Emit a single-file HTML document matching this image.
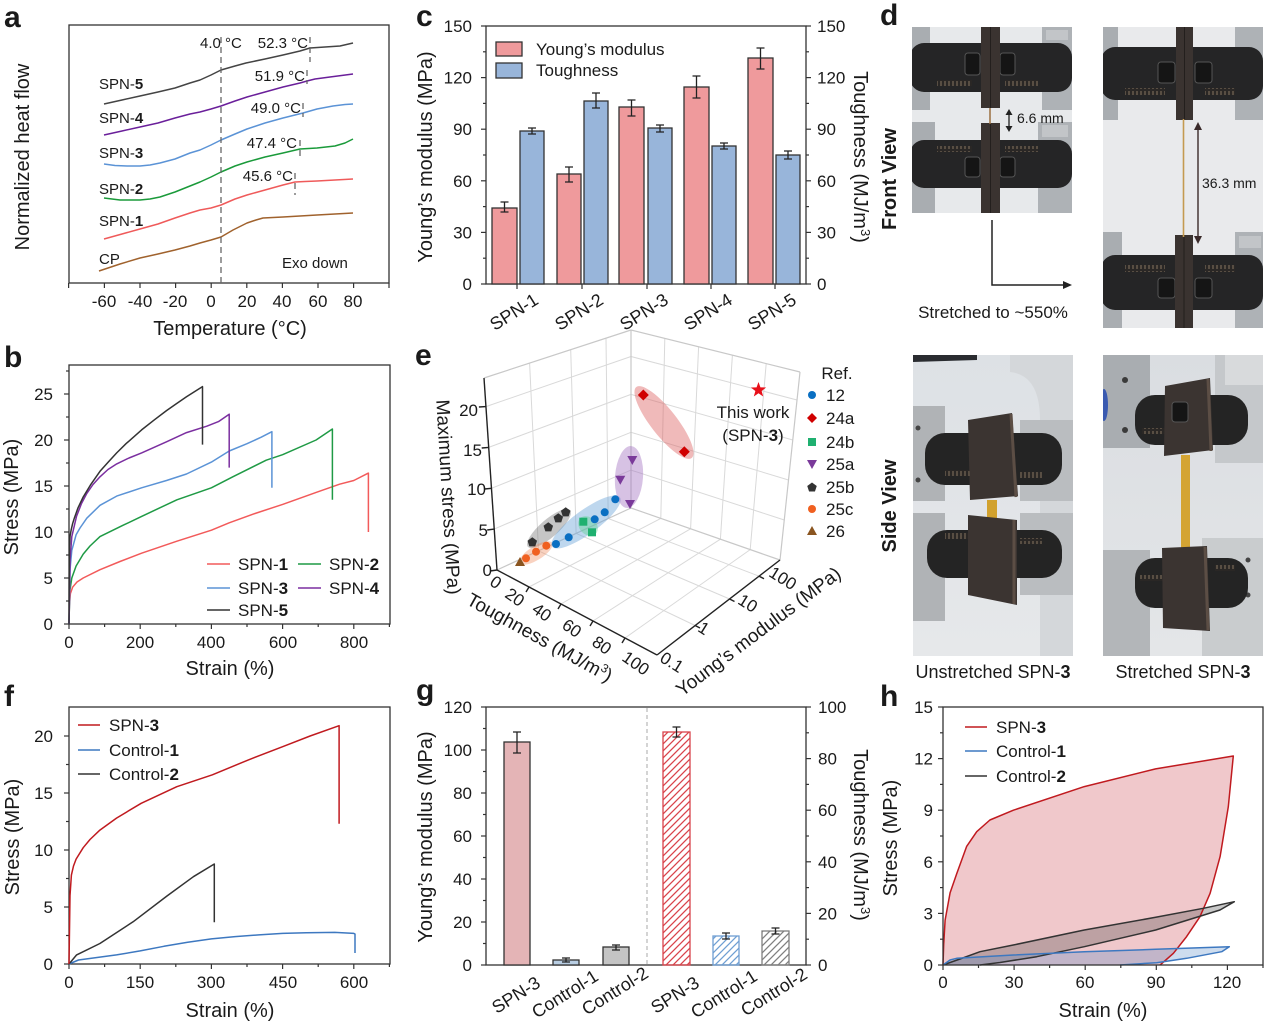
<!DOCTYPE html>
<html><head><meta charset="utf-8"><style>
html,body{margin:0;padding:0;background:#fff;}
svg{display:block;}
text{fill:#1a1a1a;}
</style></head><body>
<svg width="1264" height="1025" viewBox="0 0 1264 1025" font-family="'Liberation Sans', Arial, sans-serif">
<defs>
<pattern id="hr" patternUnits="userSpaceOnUse" width="7" height="7"><path d="M-1,1 l2,-2 M0,7 l7,-7 M6,8 l2,-2" stroke="#d9434b" stroke-width="1.3"/></pattern>
<pattern id="hb" patternUnits="userSpaceOnUse" width="7" height="7"><path d="M-1,1 l2,-2 M0,7 l7,-7 M6,8 l2,-2" stroke="#6f9fd3" stroke-width="1.3"/></pattern>
<pattern id="hg" patternUnits="userSpaceOnUse" width="7" height="7"><path d="M-1,1 l2,-2 M0,7 l7,-7 M6,8 l2,-2" stroke="#808080" stroke-width="1.3"/></pattern>
<pattern id="spring" patternUnits="userSpaceOnUse" width="4" height="10"><rect width="4" height="10" fill="#2a2725"/><line x1="1" y1="1" x2="1" y2="9" stroke="#9c8a70" stroke-width="0.8"/></pattern>
<linearGradient id="bgbl" x1="0" y1="0" x2="0" y2="1"><stop offset="0" stop-color="#dde1e5"/><stop offset="1" stop-color="#e6e8ea"/></linearGradient>
<linearGradient id="bgbr" x1="0" y1="0" x2="0" y2="1"><stop offset="0" stop-color="#dadde1"/><stop offset="1" stop-color="#e4e6e8"/></linearGradient>
<clipPath id="c1"><rect x="912" y="27" width="160" height="186"/></clipPath>
<clipPath id="c2"><rect x="1103" y="27" width="160" height="301"/></clipPath>
<clipPath id="c3"><rect x="913" y="355" width="160" height="301"/></clipPath>
<clipPath id="c4"><rect x="1103" y="355" width="160" height="301"/></clipPath>
</defs>

<!-- ================= PANEL A ================= -->
<text x="4" y="27" font-size="30" font-weight="bold">a</text>
<rect x="69" y="25" width="320" height="258" fill="none" stroke="#333" stroke-width="1.3"/>
<g stroke="#333" stroke-width="1.2">
<line x1="68.6" y1="283" x2="68.6" y2="288"/><line x1="104.4" y1="283" x2="104.4" y2="288"/><line x1="140" y1="283" x2="140" y2="288"/><line x1="175.6" y1="283" x2="175.6" y2="288"/><line x1="211.2" y1="283" x2="211.2" y2="288"/><line x1="246.8" y1="283" x2="246.8" y2="288"/><line x1="282.4" y1="283" x2="282.4" y2="288"/><line x1="318" y1="283" x2="318" y2="288"/><line x1="353.6" y1="283" x2="353.6" y2="288"/><line x1="389" y1="283" x2="389" y2="288"/>
</g>
<g font-size="17" text-anchor="middle">
<text x="104" y="307">-60</text><text x="140" y="307">-40</text><text x="175" y="307">-20</text><text x="211" y="307">0</text><text x="247" y="307">20</text><text x="282" y="307">40</text><text x="318" y="307">60</text><text x="353" y="307">80</text>
</g>
<text x="230" y="335" font-size="20" text-anchor="middle">Temperature (°C)</text>
<text transform="translate(22,157) rotate(-90)" y="7" font-size="20" text-anchor="middle">Normalized heat flow</text>
<g fill="none" stroke-width="1.5" stroke-linejoin="round">
<path stroke="#a0622d" d="M99,271 L120,264 L140,258 L158,254 L175,250 L190,246 L200,243 L211,240 L221,237 L233,230 L247,223 L256,220 L263,218 L283,217 L300,216 L317,215 L335,214 L353,213"/>
<path stroke="#ef5a5a" d="M104,239 L122,234 L140,229 L158,224 L175,218 L190,213 L200,210 L211,208 L221,205 L235,199 L247,195 L265,190 L283,185 L295,182 L305,181.5 L317,181 L335,180 L353,179"/>
<path stroke="#1a9a3a" d="M104,198 L120,200 L140,200 L150,199 L160,197 L175,192 L190,186 L200,182 L211,177 L221,172 L235,166 L247,162 L265,157 L283,153 L300,149 L317,148 L335,146 L345,143 L353,139"/>
<path stroke="#5b93d6" d="M104,164 L115,165.5 L127,166 L140,166 L150,165 L160,163 L175,159 L190,153 L200,150 L211,145 L221,140 L235,134 L247,129 L265,123 L283,118 L303,113 L317,109 L333,106 L345,104.5 L353,104"/>
<path stroke="#6a1f9a" d="M104,135 L122,131 L140,127 L158,123 L175,118 L190,114 L200,112 L211,109 L221,106 L235,101 L247,97 L265,92 L283,87 L300,83 L307,81 L315,79 L330,77 L353,74"/>
<path stroke="#444" d="M104,104 L122,100 L140,96 L158,92 L175,88 L190,83 L200,80 L211,75 L221,70 L235,66 L246,63 L265,59 L283,55 L300,51 L310,48 L325,47 L340,46 L353,43"/>
</g>
<g stroke="#666" stroke-width="1.3" stroke-dasharray="6,4">
<line x1="221" y1="37" x2="221" y2="283"/>
<line x1="310" y1="37" x2="310" y2="62"/>
<line x1="307" y1="70" x2="307" y2="84"/>
<line x1="303" y1="103" x2="303" y2="117"/>
<line x1="300" y1="140" x2="300" y2="160"/>
<line x1="295" y1="173" x2="295" y2="195"/>
</g>
<g font-size="15">
<text x="200" y="48">4.0 °C</text>
<text x="308" y="48" text-anchor="end">52.3 °C</text>
<text x="305" y="81" text-anchor="end">51.9 °C</text>
<text x="301" y="113" text-anchor="end">49.0 °C</text>
<text x="297" y="148" text-anchor="end">47.4 °C</text>
<text x="293" y="181" text-anchor="end">45.6 °C</text>
<text x="99" y="89">SPN-<tspan font-weight="bold">5</tspan></text>
<text x="99" y="123">SPN-<tspan font-weight="bold">4</tspan></text>
<text x="99" y="158">SPN-<tspan font-weight="bold">3</tspan></text>
<text x="99" y="194">SPN-<tspan font-weight="bold">2</tspan></text>
<text x="99" y="226">SPN-<tspan font-weight="bold">1</tspan></text>
<text x="99" y="264">CP</text>
<text x="282" y="268">Exo down</text>
</g>

<!-- ================= PANEL B ================= -->
<text x="4" y="367" font-size="30" font-weight="bold">b</text>
<rect x="69" y="365" width="321" height="259" fill="none" stroke="#333" stroke-width="1.3"/>
<g stroke="#333" stroke-width="1.2">
<line x1="64" y1="624" x2="69" y2="624"/><line x1="64" y1="578" x2="69" y2="578"/><line x1="64" y1="532" x2="69" y2="532"/><line x1="64" y1="486" x2="69" y2="486"/><line x1="64" y1="440" x2="69" y2="440"/><line x1="64" y1="394" x2="69" y2="394"/>
<line x1="66" y1="601" x2="69" y2="601"/><line x1="66" y1="555" x2="69" y2="555"/><line x1="66" y1="509" x2="69" y2="509"/><line x1="66" y1="463" x2="69" y2="463"/><line x1="66" y1="417" x2="69" y2="417"/><line x1="66" y1="371" x2="69" y2="371"/>
<line x1="69" y1="624" x2="69" y2="629"/><line x1="140.2" y1="624" x2="140.2" y2="629"/><line x1="211.4" y1="624" x2="211.4" y2="629"/><line x1="282.6" y1="624" x2="282.6" y2="629"/><line x1="353.8" y1="624" x2="353.8" y2="629"/>
<line x1="104.6" y1="624" x2="104.6" y2="627"/><line x1="175.8" y1="624" x2="175.8" y2="627"/><line x1="247" y1="624" x2="247" y2="627"/><line x1="318.2" y1="624" x2="318.2" y2="627"/><line x1="389.4" y1="624" x2="389.4" y2="627"/>
</g>
<g font-size="17" text-anchor="end">
<text x="53" y="630">0</text><text x="53" y="584">5</text><text x="53" y="538">10</text><text x="53" y="492">15</text><text x="53" y="446">20</text><text x="53" y="400">25</text>
</g>
<g font-size="17" text-anchor="middle">
<text x="69" y="648">0</text><text x="140" y="648">200</text><text x="211" y="648">400</text><text x="283" y="648">600</text><text x="354" y="648">800</text>
</g>
<text x="230" y="675" font-size="20" text-anchor="middle">Strain (%)</text>
<text transform="translate(11,497) rotate(-90)" y="7" font-size="20" text-anchor="middle">Stress (MPa)</text>
<g fill="none" stroke-width="1.5" stroke-linejoin="round">
<path stroke="#f25a5a" d="M69,624 L69.4,605.6 L70.4,593.6 L72.6,587.2 L77,582 L83.2,578 L100,569.7 L120,561.5 L141.6,553.2 L176.9,541.2 L211.4,530.2 L229.2,522.8 L255,513.5 L282.6,504.4 L316.1,492.4 L339.6,484.2 L353.8,480.5 L368.4,473.1 L368.4,532"/>
<path stroke="#1f9a45" d="M69,624 L69.7,591.8 L71.8,578 L76.1,566 L83.2,554.1 L90,546 L100,536.6 L122.4,525.6 L141.6,516.4 L176.9,499.8 L211.4,487.8 L232.8,476.8 L266.2,460.2 L282.6,454.7 L316.1,440 L332.4,429 L332.4,499.8"/>
<path stroke="#5b93d6" d="M69,624 L70.1,568.8 L71.8,550.4 L76.1,534.8 L80,528 L86.8,518.2 L100,505.3 L116.7,496.1 L141.6,487.8 L166.5,480.5 L186.5,474 L211.4,462.1 L229.2,451 L247,443.7 L261.2,437.2 L271.9,431.7 L271.9,487.8"/>
<path stroke="#7b2fa0" d="M69,624 L70.1,559.6 L71.8,536.6 L76.5,516.4 L81.5,503.5 L86.8,493.4 L93,484.5 L100,476.8 L108,469.5 L116.7,463.9 L129,458 L141.6,452.9 L166.5,441.8 L186.5,432.6 L206.8,426.2 L218.5,421.6 L229.2,414.2 L229.2,467.6"/>
<path stroke="#333" d="M69,624 L69.2,578 L69.5,545.8 L70.1,535.7 L71.1,530.2 L72.6,523.7 L74.3,518.2 L77.9,508.1 L83.2,497 L90.4,485.1 L100,471.3 L108.2,462.1 L116.7,452.9 L126,443.7 L141.6,429.9 L154.4,419.8 L166.5,410.6 L175.8,404.1 L186.5,396.8 L193.6,392.2 L202.5,386.6 L202.5,444.6"/>
</g>
<g stroke-width="1.5">
<line x1="207" y1="564" x2="230" y2="564" stroke="#f25a5a"/>
<line x1="298" y1="564" x2="321" y2="564" stroke="#1f9a45"/>
<line x1="207" y1="588" x2="230" y2="588" stroke="#5b93d6"/>
<line x1="298" y1="588" x2="321" y2="588" stroke="#7b2fa0"/>
<line x1="207" y1="610" x2="230" y2="610" stroke="#333"/>
</g>
<g font-size="17">
<text x="238" y="570">SPN-<tspan font-weight="bold">1</tspan></text>
<text x="329" y="570">SPN-<tspan font-weight="bold">2</tspan></text>
<text x="238" y="594">SPN-<tspan font-weight="bold">3</tspan></text>
<text x="329" y="594">SPN-<tspan font-weight="bold">4</tspan></text>
<text x="238" y="616">SPN-<tspan font-weight="bold">5</tspan></text>
</g>

<!-- ================= PANEL C ================= -->
<text x="416" y="26" font-size="30" font-weight="bold">c</text>
<rect x="486" y="26" width="320" height="258" fill="none" stroke="#333" stroke-width="1.3"/>
<g stroke="#333" stroke-width="1.2">
<line x1="481" y1="284" x2="486" y2="284"/><line x1="481" y1="232.4" x2="486" y2="232.4"/><line x1="481" y1="180.8" x2="486" y2="180.8"/><line x1="481" y1="129.2" x2="486" y2="129.2"/><line x1="481" y1="77.6" x2="486" y2="77.6"/><line x1="481" y1="26" x2="486" y2="26"/>
<line x1="483" y1="258.2" x2="486" y2="258.2"/><line x1="483" y1="206.6" x2="486" y2="206.6"/><line x1="483" y1="155" x2="486" y2="155"/><line x1="483" y1="103.4" x2="486" y2="103.4"/><line x1="483" y1="51.8" x2="486" y2="51.8"/>
<line x1="806" y1="284" x2="811" y2="284"/><line x1="806" y1="232.4" x2="811" y2="232.4"/><line x1="806" y1="180.8" x2="811" y2="180.8"/><line x1="806" y1="129.2" x2="811" y2="129.2"/><line x1="806" y1="77.6" x2="811" y2="77.6"/><line x1="806" y1="26" x2="811" y2="26"/>
<line x1="806" y1="258.2" x2="809" y2="258.2"/><line x1="806" y1="206.6" x2="809" y2="206.6"/><line x1="806" y1="155" x2="809" y2="155"/><line x1="806" y1="103.4" x2="809" y2="103.4"/><line x1="806" y1="51.8" x2="809" y2="51.8"/>
<line x1="517" y1="284" x2="517" y2="289"/><line x1="582" y1="284" x2="582" y2="289"/><line x1="647" y1="284" x2="647" y2="289"/><line x1="711" y1="284" x2="711" y2="289"/><line x1="775" y1="284" x2="775" y2="289"/>
</g>
<g font-size="17" text-anchor="end">
<text x="472" y="290">0</text><text x="472" y="238.4">30</text><text x="472" y="186.8">60</text><text x="472" y="135.2">90</text><text x="472" y="83.6">120</text><text x="472" y="32">150</text>
</g>
<g font-size="17">
<text x="817" y="290">0</text><text x="817" y="238.4">30</text><text x="817" y="186.8">60</text><text x="817" y="135.2">90</text><text x="817" y="83.6">120</text><text x="817" y="32">150</text>
</g>
<g stroke="#333" stroke-width="1.3">
<rect x="492" y="208" width="25" height="76" fill="#ef9a9c"/>
<rect x="520" y="131" width="24" height="153" fill="#98b5da"/>
<rect x="557" y="174" width="24" height="110" fill="#ef9a9c"/>
<rect x="584" y="101" width="24" height="183" fill="#98b5da"/>
<rect x="619" y="107" width="25" height="177" fill="#ef9a9c"/>
<rect x="648" y="128" width="24" height="156" fill="#98b5da"/>
<rect x="684" y="87" width="25" height="197" fill="#ef9a9c"/>
<rect x="712" y="146" width="24" height="138" fill="#98b5da"/>
<rect x="748" y="58" width="25" height="226" fill="#ef9a9c"/>
<rect x="776" y="155" width="24" height="129" fill="#98b5da"/>
</g>
<g stroke="#222" stroke-width="1.3" fill="none">
<path d="M504.5,202 V212 M500.5,202 H508.5 M500.5,212 H508.5"/>
<path d="M532,128 V134 M528,128 H536 M528,134 H536"/>
<path d="M569,167 V182 M565,167 H573 M565,182 H573"/>
<path d="M596,93 V108 M592,93 H600 M592,108 H600"/>
<path d="M631.5,100 V116 M627.5,100 H635.5 M627.5,116 H635.5"/>
<path d="M660,125 V132 M656,125 H664 M656,132 H664"/>
<path d="M696.5,76 V98 M692.5,76 H700.5 M692.5,98 H700.5"/>
<path d="M724,143 V149 M720,143 H728 M720,149 H728"/>
<path d="M760.5,48 V69 M756.5,48 H764.5 M756.5,69 H764.5"/>
<path d="M788,151 V159 M784,151 H792 M784,159 H792"/>
</g>
<rect x="496" y="42" width="26" height="14" fill="#ef9a9c" stroke="#333" stroke-width="1.3"/>
<rect x="496" y="63" width="26" height="15" fill="#98b5da" stroke="#333" stroke-width="1.3"/>
<text x="536" y="55" font-size="17">Young’s modulus</text>
<text x="536" y="76" font-size="17">Toughness</text>
<text transform="translate(425,157) rotate(-90)" y="7" font-size="20" text-anchor="middle">Young’s modulus (MPa)</text>
<text transform="translate(861,157) rotate(90)" y="7" font-size="20" text-anchor="middle">Toughness (MJ/m<tspan font-size="13" dy="-7">3</tspan><tspan dy="7">)</tspan></text>
<g font-size="18" text-anchor="middle">
<text transform="translate(514,312) rotate(-32)" y="6">SPN-1</text>
<text transform="translate(579,312) rotate(-32)" y="6">SPN-2</text>
<text transform="translate(644,312) rotate(-32)" y="6">SPN-3</text>
<text transform="translate(708,312) rotate(-32)" y="6">SPN-4</text>
<text transform="translate(772,312) rotate(-32)" y="6">SPN-5</text>
</g>

<!-- ================= PANEL E ================= -->
<text x="415" y="365" font-size="30" font-weight="bold">e</text>
<g stroke="#d9d9d9" stroke-width="1" fill="none">
<line x1="494.2" y1="529.1" x2="631" y2="470.1"/>
<line x1="491.5" y1="488.3" x2="631" y2="432.3"/>
<line x1="488.7" y1="447.4" x2="631" y2="394.4"/>
<line x1="485.9" y1="406.6" x2="631" y2="356.5"/>
<line x1="538.5" y1="550.8" x2="529.6" y2="363.1"/>
<line x1="576.1" y1="533.4" x2="570.7" y2="349.7"/>
<line x1="608.2" y1="518.5" x2="606" y2="338.2"/>
<line x1="631" y1="470.1" x2="784.3" y2="520"/>
<line x1="631" y1="432.3" x2="788.5" y2="480"/>
<line x1="631" y1="394.4" x2="792.8" y2="440"/>
<line x1="631" y1="356.5" x2="797" y2="400"/>
<line x1="660.8" y1="518.4" x2="664.8" y2="338.4"/>
<line x1="690.6" y1="528.8" x2="698.6" y2="346.8"/>
<line x1="720.4" y1="539.2" x2="732.4" y2="355.2"/>
<line x1="750.2" y1="549.6" x2="766.2" y2="363.6"/>
<line x1="529" y1="587" x2="660.8" y2="518.4"/>
<line x1="561" y1="604" x2="690.6" y2="528.8"/>
<line x1="593" y1="621" x2="720.4" y2="539.2"/>
<line x1="625" y1="638" x2="750.2" y2="549.6"/>
<line x1="538.5" y1="550.8" x2="695.1" y2="625.5"/>
<line x1="576.1" y1="533.4" x2="729.6" y2="599"/>
<line x1="608.2" y1="518.5" x2="759.1" y2="576.2"/>
</g>
<g stroke="#c8c8c8" stroke-width="1.2" fill="none">
<line x1="484" y1="378" x2="631" y2="330"/>
<line x1="631" y1="330" x2="800" y2="372"/>
<line x1="800" y1="372" x2="780" y2="560"/>
<line x1="631" y1="330" x2="631" y2="508"/>
<line x1="497" y1="570" x2="631" y2="508"/>
<line x1="631" y1="508" x2="780" y2="560"/>
</g>
<g stroke="#222" stroke-width="1.4" fill="none">
<line x1="484" y1="378" x2="497" y2="570"/>
<line x1="497" y1="570" x2="657" y2="655"/>
<line x1="657" y1="655" x2="780" y2="560"/>
<line x1="497" y1="570" x2="490" y2="571"/>
<line x1="494.2" y1="529.1" x2="487.2" y2="530"/>
<line x1="491.5" y1="488.3" x2="484.5" y2="489"/>
<line x1="488.7" y1="447.4" x2="481.7" y2="448"/>
<line x1="485.9" y1="406.6" x2="478.9" y2="407"/>
<line x1="529" y1="587" x2="526" y2="592"/>
<line x1="561" y1="604" x2="558" y2="609"/>
<line x1="593" y1="621" x2="590" y2="626"/>
<line x1="625" y1="638" x2="622" y2="643"/>
<line x1="695.1" y1="625.5" x2="700" y2="628"/>
<line x1="729.6" y1="599" x2="734.5" y2="601.5"/>
<line x1="759.1" y1="576.2" x2="764" y2="578.7"/>
</g>
<g font-size="17" text-anchor="end">
<text x="492" y="576">0</text><text x="488" y="536">5</text><text x="486" y="495">10</text><text x="482" y="456">15</text><text x="478" y="416">20</text>
</g>
<g font-size="17" text-anchor="middle">
<text transform="translate(496,582) rotate(35)" y="6">0</text>
<text transform="translate(515,597) rotate(35)" y="6">20</text>
<text transform="translate(542,612) rotate(35)" y="6">40</text>
<text transform="translate(572,628) rotate(35)" y="6">60</text>
<text transform="translate(602,645) rotate(35)" y="6">80</text>
<text transform="translate(636,663) rotate(35)" y="6">100</text>
<text transform="translate(672,662) rotate(32)" y="6">0.1</text>
<text transform="translate(704,628) rotate(32)" y="6">1</text>
<text transform="translate(748,603) rotate(32)" y="6">10</text>
<text transform="translate(783,578) rotate(32)" y="6">100</text>
</g>
<text transform="translate(449,497) rotate(86.6)" y="7" font-size="19" text-anchor="middle">Maximum stress (MPa)</text>
<text transform="translate(540,637) rotate(29)" y="7" font-size="19" text-anchor="middle">Toughness (MJ/m<tspan font-size="12" dy="-7">3</tspan><tspan dy="7">)</tspan></text>
<text transform="translate(758,631) rotate(-37)" y="7" font-size="19" text-anchor="middle">Young’s modulus (MPa)</text>
<ellipse cx="549" cy="528.5" rx="28" ry="9" transform="rotate(-41 549 528.5)" fill="#787878" fill-opacity="0.42"/>
<ellipse cx="536" cy="553" rx="19" ry="7" transform="rotate(-32 536 553)" fill="#f08a5a" fill-opacity="0.38"/>
<ellipse cx="586" cy="522" rx="42" ry="12" transform="rotate(-36 586 522)" fill="#64a0d7" fill-opacity="0.42"/>
<ellipse cx="588" cy="526" rx="11" ry="8.5" transform="rotate(45 588 526)" fill="#64d296" fill-opacity="0.45"/>
<ellipse cx="629" cy="477" rx="14" ry="31" transform="rotate(4 629 477)" fill="#a06ebe" fill-opacity="0.42"/>
<ellipse cx="664" cy="422.5" rx="45" ry="13" transform="rotate(52 664 422.5)" fill="#dc5a5a" fill-opacity="0.42"/>
<g fill="#333"><polygon points="0,-5 4.76,-1.55 2.94,4.05 -2.94,4.05 -4.76,-1.55" transform="translate(532.3,542.3)"/><polygon points="0,-5 4.76,-1.55 2.94,4.05 -2.94,4.05 -4.76,-1.55" transform="translate(548.3,527.3)"/><polygon points="0,-5 4.76,-1.55 2.94,4.05 -2.94,4.05 -4.76,-1.55" transform="translate(558.3,518.3)"/><polygon points="0,-5 4.76,-1.55 2.94,4.05 -2.94,4.05 -4.76,-1.55" transform="translate(565.7,512.3)"/></g>
<g fill="#f06020"><circle cx="526" cy="558.3" r="4"/><circle cx="536" cy="551.7" r="4"/><circle cx="546.3" cy="545.7" r="4"/></g>
<polygon points="0,-5 5,4 -5,4" transform="translate(520,562)" fill="#8a5520"/>
<g fill="#0a6fc2"><circle cx="556" cy="544" r="4"/><circle cx="568.7" cy="537.3" r="4"/><circle cx="594.7" cy="519.3" r="4"/><circle cx="604.7" cy="512.3" r="4"/><circle cx="615.3" cy="499.3" r="4"/></g>
<g fill="#1fb070"><rect x="579.3" y="517.7" width="8" height="8"/><rect x="588" y="528.3" width="8" height="8"/></g>
<g fill="#7a3a9a"><polygon points="-5,-4 5,-4 0,5" transform="translate(620.3,479.7)"/><polygon points="-5,-4 5,-4 0,5" transform="translate(632.3,460)"/><polygon points="-5,-4 5,-4 0,5" transform="translate(630,504)"/></g>
<g fill="#d00000"><polygon points="0,-5.5 5.5,0 0,5.5 -5.5,0" transform="translate(643.3,395)"/><polygon points="0,-5.5 5.5,0 0,5.5 -5.5,0" transform="translate(684.3,451.7)"/></g>
<polygon points="0,-8 1.94,-2.67 7.61,-2.47 3.14,1.02 4.7,6.47 0,3.3 -4.7,6.47 -3.14,1.02 -7.61,-2.47 -1.94,-2.67" transform="translate(758.5,390)" fill="#e8101a"/>
<g font-size="17" text-anchor="middle">
<text x="753" y="418">This work</text>
<text x="753" y="441">(SPN-<tspan font-weight="bold">3</tspan>)</text>
<text x="837" y="379">Ref.</text>
</g>
<circle cx="812" cy="395" r="4" fill="#0a6fc2"/>
<polygon points="0,-5 5,0 0,5 -5,0" transform="translate(812,418)" fill="#d00000"/>
<rect x="808" y="438" width="8" height="8" fill="#1fb070"/>
<polygon points="-5,-4 5,-4 0,5" transform="translate(812,464)" fill="#7a3a9a"/>
<polygon points="0,-5 4.76,-1.55 2.94,4.05 -2.94,4.05 -4.76,-1.55" transform="translate(812,487.5)" fill="#333"/>
<circle cx="812" cy="509" r="4" fill="#f06020"/>
<polygon points="0,-5 5,4 -5,4" transform="translate(812,531)" fill="#8a5520"/>
<g font-size="17">
<text x="826" y="401">12</text><text x="826" y="424">24a</text><text x="826" y="448">24b</text><text x="826" y="470">25a</text><text x="826" y="493">25b</text><text x="826" y="515">25c</text><text x="826" y="537">26</text>
</g>

<!-- ================= PANEL D ================= -->
<text x="880" y="25" font-size="30" font-weight="bold">d</text>
<text transform="translate(889,179) rotate(-90)" y="7" font-size="20" font-weight="bold" text-anchor="middle">Front View</text>
<text transform="translate(889,506) rotate(-90)" y="7" font-size="20" font-weight="bold" text-anchor="middle">Side View</text>
<!-- photo 1 -->
<g clip-path="url(#c1)">
<rect x="912" y="27" width="160" height="186" fill="#e7e9eb"/>
<rect x="912" y="27" width="18" height="83" fill="#a9adb1"/><rect x="1042" y="27" width="30" height="83" fill="#aeb2b6"/>
<rect x="1046" y="30" width="22" height="10" fill="#c2c5c8"/>
<rect x="912" y="122" width="23" height="91" fill="#a9adb1"/><rect x="1038" y="122" width="34" height="91" fill="#aeb2b6"/>
<rect x="1042" y="125" width="26" height="12" fill="#c2c5c8"/>
<rect x="910" y="43" width="162" height="49" rx="14" fill="#252526"/>
<rect x="937" y="80" width="35" height="6" fill="url(#spring)"/><rect x="1005" y="80" width="33" height="6" fill="url(#spring)"/>
<rect x="965" y="53" width="15" height="22" rx="3" fill="#151515" stroke="#555"/><rect x="1000" y="53" width="15" height="22" rx="3" fill="#151515" stroke="#555"/>
<rect x="910" y="140" width="162" height="48" rx="14" fill="#252526"/>
<rect x="937" y="146" width="35" height="6" fill="url(#spring)"/><rect x="1005" y="146" width="33" height="6" fill="url(#spring)"/>
<rect x="965" y="157" width="15" height="20" rx="3" fill="#151515" stroke="#555"/><rect x="1000" y="157" width="15" height="20" rx="3" fill="#151515" stroke="#555"/>
<rect x="981" y="27" width="19" height="81" fill="#3a3330"/><line x1="990.5" y1="27" x2="990.5" y2="108" stroke="#231f1d"/>
<rect x="981" y="123" width="19" height="90" fill="#3a3330"/><line x1="990.5" y1="123" x2="990.5" y2="213" stroke="#231f1d"/>
<line x1="990" y1="108" x2="990" y2="124" stroke="#9a7040" stroke-width="1.5"/>
</g>
<g stroke="#222" stroke-width="1.3" fill="#222">
<line x1="1009" y1="113" x2="1009" y2="128"/>
<polygon points="1005.5,115 1009,109 1012.5,115" stroke="none"/><polygon points="1005.5,126 1009,132 1012.5,126" stroke="none"/>
</g>
<text x="1017" y="123" font-size="14">6.6 mm</text>
<!-- photo 2 -->
<g clip-path="url(#c2)">
<rect x="1103" y="27" width="160" height="301" fill="#e9eaec"/>
<rect x="1103" y="27" width="15" height="93" fill="#a9adb1"/><rect x="1235" y="27" width="28" height="93" fill="#aeb2b6"/>
<rect x="1103" y="232" width="19" height="96" fill="#a9adb1"/><rect x="1235" y="232" width="28" height="96" fill="#aeb2b6"/>
<rect x="1239" y="236" width="22" height="12" fill="#c2c5c8"/>
<rect x="1101" y="47" width="162" height="53" rx="14" fill="#252526"/>
<rect x="1125" y="88" width="40" height="7" fill="url(#spring)"/><rect x="1205" y="88" width="30" height="7" fill="url(#spring)"/>
<rect x="1158" y="62" width="17" height="21" rx="3" fill="#151515" stroke="#555"/><rect x="1195" y="62" width="17" height="21" rx="3" fill="#151515" stroke="#555"/>
<rect x="1101" y="255" width="162" height="55" rx="14" fill="#252526"/>
<rect x="1125" y="265" width="40" height="7" fill="url(#spring)"/><rect x="1205" y="265" width="30" height="7" fill="url(#spring)"/>
<rect x="1158" y="278" width="17" height="20" rx="3" fill="#151515" stroke="#555"/><rect x="1195" y="278" width="17" height="20" rx="3" fill="#151515" stroke="#555"/>
<rect x="1176" y="27" width="17" height="93" fill="#3a3330"/><line x1="1184.5" y1="27" x2="1184.5" y2="120" stroke="#231f1d"/>
<rect x="1175" y="235" width="18" height="93" fill="#3a3330"/><line x1="1184" y1="235" x2="1184" y2="328" stroke="#231f1d"/>
<line x1="1183.5" y1="119" x2="1183.5" y2="237" stroke="#c49a50" stroke-width="1.6"/>
</g>
<g stroke="#3a2a2a" stroke-width="1.4" fill="#3a2a2a">
<line x1="1198" y1="128" x2="1198" y2="238"/>
<polygon points="1194,130 1198,122 1202,130" stroke="none"/><polygon points="1194,236 1198,244 1202,236" stroke="none"/>
</g>
<text x="1202" y="188" font-size="14">36.3 mm</text>
<!-- arrow -->
<g stroke="#222" stroke-width="1.5" fill="none"><path d="M992,220 V285 H1065"/></g>
<polygon points="1063,281 1072,285 1063,289" fill="#222"/>
<text x="993" y="318" font-size="17" text-anchor="middle">Stretched to ~550%</text>
<!-- photo 3 -->
<g clip-path="url(#c3)">
<rect x="913" y="355" width="160" height="301" fill="url(#bgbl)"/>
<polygon points="913,355 977,355 977,360 913,362" fill="#2a2c30"/>
<path d="M1010,355 H1073 V656 H1040 V420 Q1040,375 1010,372 Z" fill="#d4d7da"/>
<rect x="913" y="406" width="32" height="95" fill="#b0b3b6"/>
<rect x="913" y="513" width="32" height="108" fill="#b0b3b6"/>
<circle cx="918" cy="428" r="2.5" fill="#444"/><circle cx="918" cy="480" r="2.5" fill="#444"/>
<rect x="1020" y="420" width="53" height="81" fill="#babdc0"/>
<rect x="1020" y="513" width="53" height="82" fill="#babdc0"/>
<rect x="925" y="433" width="137" height="52" rx="20" fill="#242424"/>
<rect x="945" y="470" width="30" height="6" fill="url(#spring)"/><rect x="1020" y="472" width="22" height="6" fill="url(#spring)"/>
<rect x="975" y="450" width="18" height="22" rx="4" fill="#151515" stroke="#555"/>
<rect x="927" y="530" width="135" height="48" rx="20" fill="#242424"/>
<rect x="945" y="533" width="35" height="6" fill="url(#spring)"/><rect x="1020" y="538" width="22" height="6" fill="url(#spring)"/>
<rect x="975" y="545" width="18" height="22" rx="4" fill="#151515" stroke="#555"/>
<polygon points="968,420 1012,413 1018,496 970,500" fill="#3b3431"/>
<line x1="1011" y1="414" x2="1016" y2="497" stroke="#5c4e45" stroke-width="3"/>
<rect x="987" y="500" width="10" height="18" fill="#d1a12e"/>
<polygon points="968,515 1017,520 1017,605 968,595" fill="#3b3431"/>
<line x1="1014" y1="520" x2="1014" y2="604" stroke="#5c4e45" stroke-width="3"/>
</g>
<!-- photo 4 -->
<g clip-path="url(#c4)">
<rect x="1103" y="355" width="160" height="301" fill="url(#bgbr)"/>
<rect x="1103" y="355" width="47" height="93" fill="#a9adb1"/>
<circle cx="1125" cy="380" r="3" fill="#3a3a3a"/><circle cx="1125" cy="430" r="3" fill="#3a3a3a"/>
<ellipse cx="1104" cy="405" rx="4" ry="16" fill="#3a5ab0"/>
<rect x="1215" y="355" width="48" height="108" fill="#c5c8cb"/>
<rect x="1225" y="355" width="38" height="30" fill="#d8dadc"/>
<rect x="1135" y="395" width="113" height="50" rx="20" fill="#242424"/>
<rect x="1142" y="428" width="30" height="6" fill="url(#spring)"/>
<polygon points="1165,386 1210,378 1213,450 1164,456" fill="#3b3431"/>
<line x1="1208" y1="379" x2="1211" y2="451" stroke="#5c4e45" stroke-width="3"/>
<rect x="1172" y="402" width="16" height="20" rx="3" fill="#151515" stroke="#555"/>
<rect x="1181" y="455" width="9" height="93" fill="#d4a433"/>
<rect x="1103" y="550" width="47" height="106" fill="#b3b6b9"/>
<rect x="1202" y="538" width="61" height="118" fill="#c9ccce"/>
<circle cx="1248" cy="560" r="2.5" fill="#444"/><circle cx="1248" cy="595" r="2.5" fill="#444"/>
<rect x="1135" y="558" width="113" height="50" rx="20" fill="#242424"/>
<rect x="1140" y="575" width="30" height="6" fill="url(#spring)"/><rect x="1215" y="565" width="20" height="6" fill="url(#spring)"/>
<polygon points="1162,548 1207,546 1210,631 1163,628" fill="#3b3431"/>
<line x1="1205" y1="547" x2="1208" y2="630" stroke="#5c4e45" stroke-width="3"/>
</g>
<text x="993" y="678" font-size="18" text-anchor="middle">Unstretched SPN-<tspan font-weight="bold">3</tspan></text>
<text x="1183" y="678" font-size="18" text-anchor="middle">Stretched SPN-<tspan font-weight="bold">3</tspan></text>

<!-- ================= PANEL F ================= -->
<text x="4" y="706" font-size="30" font-weight="bold">f</text>
<rect x="69" y="707" width="321" height="257" fill="none" stroke="#333" stroke-width="1.3"/>
<g stroke="#333" stroke-width="1.2">
<line x1="64" y1="964" x2="69" y2="964"/><line x1="64" y1="907" x2="69" y2="907"/><line x1="64" y1="850" x2="69" y2="850"/><line x1="64" y1="793" x2="69" y2="793"/><line x1="64" y1="736" x2="69" y2="736"/>
<line x1="66" y1="935.5" x2="69" y2="935.5"/><line x1="66" y1="878.5" x2="69" y2="878.5"/><line x1="66" y1="821.5" x2="69" y2="821.5"/><line x1="66" y1="764.5" x2="69" y2="764.5"/>
<line x1="69" y1="964" x2="69" y2="969"/><line x1="140.2" y1="964" x2="140.2" y2="969"/><line x1="211.4" y1="964" x2="211.4" y2="969"/><line x1="282.6" y1="964" x2="282.6" y2="969"/><line x1="353.8" y1="964" x2="353.8" y2="969"/>
<line x1="104.6" y1="964" x2="104.6" y2="967"/><line x1="175.8" y1="964" x2="175.8" y2="967"/><line x1="247" y1="964" x2="247" y2="967"/><line x1="318.2" y1="964" x2="318.2" y2="967"/><line x1="389.4" y1="964" x2="389.4" y2="967"/>
</g>
<g font-size="17" text-anchor="end">
<text x="53" y="970">0</text><text x="53" y="913">5</text><text x="53" y="856">10</text><text x="53" y="799">15</text><text x="53" y="742">20</text>
</g>
<g font-size="17" text-anchor="middle">
<text x="69" y="988">0</text><text x="140" y="988">150</text><text x="211" y="988">300</text><text x="283" y="988">450</text><text x="354" y="988">600</text>
</g>
<text x="230" y="1017" font-size="20" text-anchor="middle">Strain (%)</text>
<text transform="translate(12,837) rotate(-90)" y="7" font-size="20" text-anchor="middle">Stress (MPa)</text>
<g fill="none" stroke-width="1.5" stroke-linejoin="round">
<path stroke="#3d78c0" d="M69,964 L78.5,960 L116.5,954.9 L140.2,950.9 L163.9,946.3 L187.7,942.3 L211.4,938.9 L235.1,936.6 L258.9,934.9 L282.6,933.4 L306.4,932.7 L334.8,932.4 L353.8,933.4 L355,934 L355,953"/>
<path stroke="#333" d="M69,964 L76.6,954.9 L99.9,943.5 L133.1,921.8 L166.8,896.1 L193.4,876.7 L214.3,864 L214.3,922.3"/>
<path stroke="#c01a1f" d="M69,964 L69.5,929.8 L70,895.6 L71.4,875.1 L73.5,866 L76.1,859.1 L83.2,847.7 L90,839.5 L99.9,830.1 L116.5,818.1 L141.2,803.3 L176.8,786.7 L212.4,774.8 L248.4,759.9 L283.6,746.3 L310.1,736 L339.1,725.7 L339.1,823.8"/>
</g>
<line x1="78" y1="725" x2="100" y2="725" stroke="#c01a1f" stroke-width="1.5"/>
<line x1="78" y1="750" x2="100" y2="750" stroke="#3d78c0" stroke-width="1.5"/>
<line x1="78" y1="774" x2="100" y2="774" stroke="#333" stroke-width="1.5"/>
<g font-size="17">
<text x="109" y="731">SPN-<tspan font-weight="bold">3</tspan></text>
<text x="109" y="756">Control-<tspan font-weight="bold">1</tspan></text>
<text x="109" y="780">Control-<tspan font-weight="bold">2</tspan></text>
</g>

<!-- ================= PANEL G ================= -->
<text x="416" y="700" font-size="30" font-weight="bold">g</text>
<rect x="486" y="707" width="320" height="258" fill="none" stroke="#333" stroke-width="1.3"/>
<g stroke="#333" stroke-width="1.2">
<line x1="481" y1="965" x2="486" y2="965"/><line x1="481" y1="922" x2="486" y2="922"/><line x1="481" y1="879" x2="486" y2="879"/><line x1="481" y1="836" x2="486" y2="836"/><line x1="481" y1="793" x2="486" y2="793"/><line x1="481" y1="750" x2="486" y2="750"/><line x1="481" y1="707" x2="486" y2="707"/>
<line x1="483" y1="943.5" x2="486" y2="943.5"/><line x1="483" y1="900.5" x2="486" y2="900.5"/><line x1="483" y1="857.5" x2="486" y2="857.5"/><line x1="483" y1="814.5" x2="486" y2="814.5"/><line x1="483" y1="771.5" x2="486" y2="771.5"/><line x1="483" y1="728.5" x2="486" y2="728.5"/>
<line x1="806" y1="965" x2="811" y2="965"/><line x1="806" y1="913.4" x2="811" y2="913.4"/><line x1="806" y1="861.8" x2="811" y2="861.8"/><line x1="806" y1="810.2" x2="811" y2="810.2"/><line x1="806" y1="758.6" x2="811" y2="758.6"/><line x1="806" y1="707" x2="811" y2="707"/>
<line x1="806" y1="939.2" x2="809" y2="939.2"/><line x1="806" y1="887.6" x2="809" y2="887.6"/><line x1="806" y1="836" x2="809" y2="836"/><line x1="806" y1="784.4" x2="809" y2="784.4"/><line x1="806" y1="732.8" x2="809" y2="732.8"/>
</g>
<g font-size="17" text-anchor="end">
<text x="472" y="971">0</text><text x="472" y="928">20</text><text x="472" y="885">40</text><text x="472" y="842">60</text><text x="472" y="799">80</text><text x="472" y="756">100</text><text x="472" y="713">120</text>
</g>
<g font-size="17">
<text x="818" y="971">0</text><text x="818" y="919.4">20</text><text x="818" y="867.8">40</text><text x="818" y="816.2">60</text><text x="818" y="764.6">80</text><text x="818" y="713">100</text>
</g>
<line x1="647" y1="708" x2="647" y2="964" stroke="#aaa" stroke-width="1" stroke-dasharray="4,3"/>
<g stroke="#333" stroke-width="1.3">
<rect x="504" y="742" width="26" height="223" fill="#e4b4b6"/>
<rect x="553" y="960" width="26" height="5" fill="#b8cde2"/>
<rect x="603" y="947" width="26" height="18" fill="#c4c4c4"/>
</g>
<rect x="663" y="732" width="27" height="233" fill="url(#hr)" stroke="#d9434b" stroke-width="1.3"/>
<rect x="713" y="936" width="26" height="29" fill="url(#hb)" stroke="#6f9fd3" stroke-width="1.3"/>
<rect x="762" y="931" width="27" height="34" fill="url(#hg)" stroke="#808080" stroke-width="1.3"/>
<g stroke="#222" stroke-width="1.3" fill="none">
<path d="M517,732 V753 M513,732 H521 M513,753 H521"/>
<path d="M566,958 V962 M562,958 H570 M562,962 H570"/>
<path d="M616,945 V950 M612,945 H620 M612,950 H620"/>
<path d="M676.5,727 V737 M672.5,727 H680.5 M672.5,737 H680.5"/>
<path d="M726,933 V939 M722,933 H730 M722,939 H730"/>
<path d="M775.5,928 V934 M771.5,928 H779.5 M771.5,934 H779.5"/>
</g>
<text transform="translate(425,837) rotate(-90)" y="7" font-size="20" text-anchor="middle">Young’s modulus (MPa)</text>
<text transform="translate(861,835) rotate(90)" y="7" font-size="20" text-anchor="middle">Toughness (MJ/m<tspan font-size="13" dy="-7">3</tspan><tspan dy="7">)</tspan></text>
<g font-size="18" text-anchor="middle">
<text transform="translate(516,995) rotate(-32)" y="6">SPN-3</text>
<text transform="translate(565,994) rotate(-32)" y="6">Control-1</text>
<text transform="translate(615,991) rotate(-32)" y="6">Control-2</text>
<text transform="translate(675,995) rotate(-32)" y="6">SPN-3</text>
<text transform="translate(724,994) rotate(-32)" y="6">Control-1</text>
<text transform="translate(774,992) rotate(-32)" y="6">Control-2</text>
</g>

<!-- ================= PANEL H ================= -->
<text x="880" y="706" font-size="30" font-weight="bold">h</text>
<path d="M943,965 L943.7,944.4 L945.1,920.3 L950.1,892.8 L956.7,873.8 L966.7,846.3 L976.7,831.7 L989.9,820 L1013.4,810.2 L1084.3,786.6 L1155.6,768.9 L1233.3,756 L1228.3,806.8 L1220.1,856.6 L1210.1,893.3 L1199.9,916.8 L1186.6,936.6 L1173.4,953.3 L1160.1,965 Z" fill="#c83440" fill-opacity="0.27"/>
<path d="M943,965 L960,959 L980,951.7 L1013.3,945 L1084.3,930 L1155.7,917.3 L1203.3,908.3 L1234.3,901.7 L1220,910 L1155.7,930 L1084.3,946.7 L1036.7,956.7 L1000,962.5 L980,965 Z" fill="#505050" fill-opacity="0.32"/>
<path d="M943,965 L950,960 L956.7,958.3 L1013.3,955 L1084.3,951.7 L1155.7,949.3 L1229.3,946.7 L1221.7,951.7 L1186.7,958.3 L1156.7,962.7 L1120,965 Z" fill="#5a8cc8" fill-opacity="0.3"/>
<g fill="none" stroke-width="1.5" stroke-linejoin="round">
<path stroke="#c01a1f" d="M943,965 L943.7,944.4 L945.1,920.3 L950.1,892.8 L956.7,873.8 L966.7,846.3 L976.7,831.7 L989.9,820 L1013.4,810.2 L1084.3,786.6 L1155.6,768.9 L1233.3,756 L1228.3,806.8 L1220.1,856.6 L1210.1,893.3 L1199.9,916.8 L1186.6,936.6 L1173.4,953.3 L1160.1,965"/>
<path stroke="#333" d="M943,965 L960,959 L980,951.7 L1013.3,945 L1084.3,930 L1155.7,917.3 L1203.3,908.3 L1234.3,901.7 L1220,910 L1155.7,930 L1084.3,946.7 L1036.7,956.7 L1000,962.5 L980,965"/>
<path stroke="#3d78c0" d="M943,965 L950,960 L956.7,958.3 L1013.3,955 L1084.3,951.7 L1155.7,949.3 L1229.3,946.7 L1221.7,951.7 L1186.7,958.3 L1156.7,962.7 L1120,965"/>
</g>
<rect x="943" y="707" width="320" height="258" fill="none" stroke="#333" stroke-width="1.3"/>
<g stroke="#333" stroke-width="1.2">
<line x1="938" y1="965" x2="943" y2="965"/><line x1="938" y1="913.4" x2="943" y2="913.4"/><line x1="938" y1="861.8" x2="943" y2="861.8"/><line x1="938" y1="810.2" x2="943" y2="810.2"/><line x1="938" y1="758.6" x2="943" y2="758.6"/><line x1="938" y1="707" x2="943" y2="707"/>
<line x1="940" y1="939.2" x2="943" y2="939.2"/><line x1="940" y1="887.6" x2="943" y2="887.6"/><line x1="940" y1="836" x2="943" y2="836"/><line x1="940" y1="784.4" x2="943" y2="784.4"/><line x1="940" y1="732.8" x2="943" y2="732.8"/>
<line x1="943" y1="965" x2="943" y2="970"/><line x1="1014.1" y1="965" x2="1014.1" y2="970"/><line x1="1085.2" y1="965" x2="1085.2" y2="970"/><line x1="1156.3" y1="965" x2="1156.3" y2="970"/><line x1="1227.4" y1="965" x2="1227.4" y2="970"/>
<line x1="978.5" y1="965" x2="978.5" y2="968"/><line x1="1049.6" y1="965" x2="1049.6" y2="968"/><line x1="1120.8" y1="965" x2="1120.8" y2="968"/><line x1="1191.8" y1="965" x2="1191.8" y2="968"/><line x1="1263" y1="965" x2="1263" y2="968"/>
</g>
<g font-size="17" text-anchor="end">
<text x="933" y="971">0</text><text x="933" y="919.4">3</text><text x="933" y="867.8">6</text><text x="933" y="816.2">9</text><text x="933" y="764.6">12</text><text x="933" y="713">15</text>
</g>
<g font-size="17" text-anchor="middle">
<text x="943" y="988">0</text><text x="1014" y="988">30</text><text x="1085" y="988">60</text><text x="1156" y="988">90</text><text x="1227" y="988">120</text>
</g>
<text x="1103" y="1017" font-size="20" text-anchor="middle">Strain (%)</text>
<text transform="translate(890,838) rotate(-90)" y="7" font-size="20" text-anchor="middle">Stress (MPa)</text>
<line x1="965" y1="727" x2="987" y2="727" stroke="#c01a1f" stroke-width="1.5"/>
<line x1="965" y1="751" x2="987" y2="751" stroke="#3d78c0" stroke-width="1.5"/>
<line x1="965" y1="776" x2="987" y2="776" stroke="#333" stroke-width="1.5"/>
<g font-size="17">
<text x="996" y="733">SPN-<tspan font-weight="bold">3</tspan></text>
<text x="996" y="757">Control-<tspan font-weight="bold">1</tspan></text>
<text x="996" y="782">Control-<tspan font-weight="bold">2</tspan></text>
</g>
</svg>
</body></html>
